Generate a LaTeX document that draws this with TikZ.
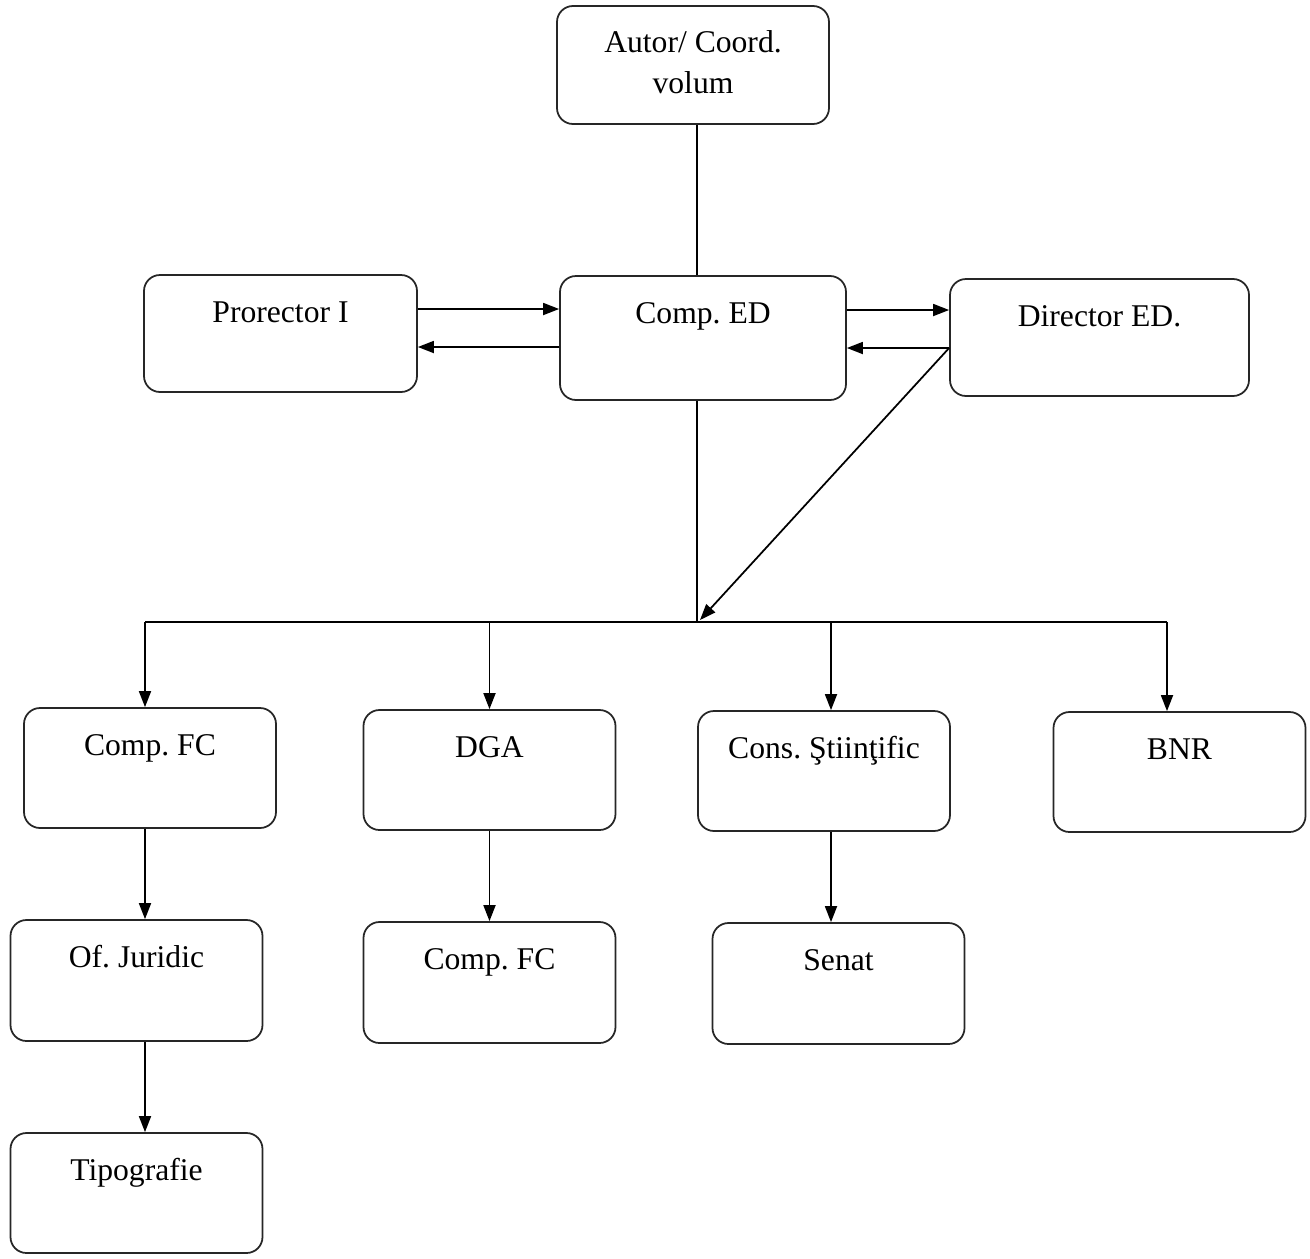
\documentclass[tikz,border=0pt]{standalone}
\usepackage{fontspec}
\setmainfont{Liberation Serif}
\frenchspacing
\usetikzlibrary{arrows.meta}

\begin{document}
\begin{tikzpicture}[>={Triangle[length=.32cm,width=.24cm]},line width=1pt,
    box/.style={draw=black!85,rounded corners=.32cm,inner sep=0pt,minimum width=5.04cm,
      text height=.95cm,text depth=1.45cm,font=\fontsize{18}{22.8}\selectfont}]
  \useasboundingbox (0,0) rectangle (26.2,-25.16);
  \node[box,minimum width=5.44cm,align=center,text height=1.74cm,text depth=.62cm] (autor) at (13.86,-1.30) {Autor/ Coord.\\volum};
  \node[box,minimum width=5.46cm,text depth=1.39cm] (prorector) at (5.61,-6.67) {Prorector I};
  \node[box,minimum width=5.72cm,text depth=1.53cm] (comped) at (14.06,-6.76) {Comp. ED};
  \node[box,minimum width=5.98cm,text depth=1.39cm] (director) at (21.99,-6.75) {Director ED.};
  \node[box] (compfc) at (3.00,-15.36) {Comp. FC};
  \node[box] (dga) at (9.79,-15.40) {DGA};
  \node[box] (cons) at (16.48,-15.42) {Cons. Ştiinţific};
  \node[box] (bnr) at (23.59,-15.44) {BNR};
  \node[box,text depth=1.47cm] (juridic) at (2.73,-19.61) {Of. Juridic};
  \node[box,text depth=1.47cm] (compfcb) at (9.79,-19.65) {Comp. FC};
  \node[box,text depth=1.47cm] (senat) at (16.77,-19.67) {Senat};
  \node[box] (tipografie) at (2.73,-23.86) {Tipografie};
  \coordinate (bus) at (13.94,-12.44);
  \coordinate (busl) at (2.90,-12.44);
  \coordinate (busr) at (23.34,-12.44);
  \coordinate (drop) at (16.62,-12.44);
  \draw (autor.south -| bus) -- (comped.north -| bus);
  \draw[->] ([yshift=.49cm]prorector.east) -- ([yshift=.58cm]comped.west);
  \draw[->] ([yshift=-.18cm]comped.west) -- ([yshift=-.27cm]prorector.east);
  \draw[->] ([yshift=.56cm]comped.east) -- ([yshift=.55cm]director.west);
  \draw[->] ([yshift=-.21cm]director.west) -- ([yshift=-.20cm]comped.east);
  \draw[->] ([yshift=-.21cm]director.west) -- (14.0,-12.40);
  \draw (comped.south -| bus) -- (bus);
  \draw (busl) -- (busr);
  \draw[->] (busl) -- (busl |- compfc.north);
  \draw[->] (dga.north |- bus) -- (dga.north);
  \draw[->] (drop) -- (drop |- cons.north);
  \draw[->] (busr) -- (busr |- bnr.north);
  \draw[->] (compfc.south -| busl) -- (juridic.north -| busl);
  \draw[->] (dga.south) -- (compfcb.north);
  \draw[->] (cons.south -| drop) -- (senat.north -| drop);
  \draw[->] (juridic.south -| busl) -- (tipografie.north -| busl);
\end{tikzpicture}
\end{document}
